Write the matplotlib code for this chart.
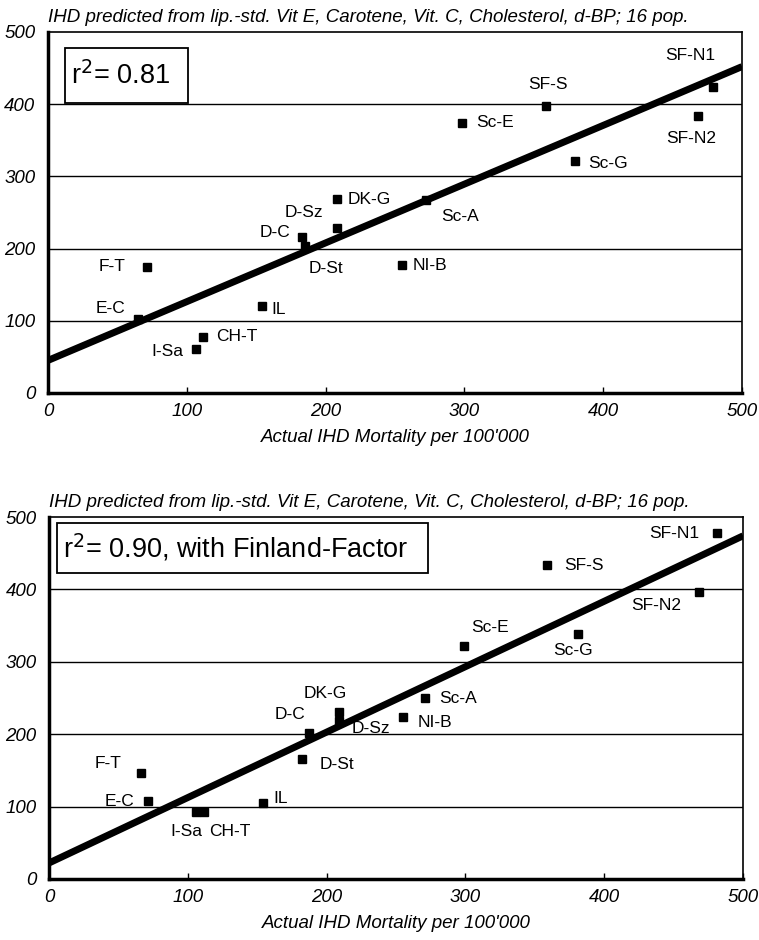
import matplotlib
matplotlib.use("Agg")
import matplotlib.pyplot as plt
from matplotlib.patches import Rectangle

plt.rcParams['font.family'] = ['Liberation Sans', 'DejaVu Sans']

# --- data ---
labels = ["F-T", "E-C", "I-Sa", "CH-T", "IL", "D-C", "D-Sz", "D-St",
          "DK-G", "Sc-A", "NI-B", "Sc-E", "SF-S", "Sc-G", "SF-N2", "SF-N1"]

top_x = [71, 65, 107, 112, 154, 183, 208, 185, 208, 272, 255, 298, 359, 380, 468, 479]
top_y = [174, 103, 61, 78, 121, 216, 229, 203, 268, 267, 177, 374, 397, 321, 384, 424]

bot_x = [66, 71, 106, 112, 154, 187, 209, 182, 209, 271, 255, 299, 359, 381, 468, 481]
bot_y = [146, 107, 93, 93, 105, 202, 218, 165, 231, 250, 223, 322, 433, 339, 397, 478]

# fitted lines (value at x=0 and x=500)
fit_x = [0, 500]
top_fit = [45, 452]
bot_fit = [22, 474]

title = "IHD predicted from lip.-std. Vit E, Carotene, Vit. C, Cholesterol, d-BP; 16 pop."
xlabel = "Actual IHD Mortality per 100'000"
ticks = [0, 100, 200, 300, 400, 500]

# label offsets in pixels (dx, dy) from each marker
top_off = [(-34, 1), (-28, 10), (-29, -3), (33, 0), (17, -4), (-27, 4), (-33, 15), (21, -22),
           (33, 0), (35, -16), (28, 0), (33, 0), (2, 22), (33, -2), (-6, -23), (-23, 31)]
bot_off = [(-33, 10), (-28, 0), (-10, -20), (25, -20), (18, 4), (-19, 18), (32, -7), (35, -5),
           (-14, 18), (33, -1), (32, -5), (26, 18), (37, 0), (-5, -17), (-42, -14), (-42, -1)]


def draw(ax, xs, ys, fit, offs, rtext, box):
    ax.set_xlim(0, 500)
    ax.set_ylim(0, 500)
    for y in ticks[1:-1]:
        ax.axhline(y, color='black', lw=1.0, zorder=1)
    ax.plot(fit_x, fit, color='black', lw=5, solid_capstyle='butt', zorder=2)
    ax.plot(xs, ys, 's', color='black', ms=5.5, zorder=3)
    for lab, x, y, (dx, dy) in zip(labels, xs, ys, offs):
        ax.annotate(lab, (x, y), xytext=(dx, dy), textcoords='offset pixels',
                    ha='center', va='center', fontsize=12.5, zorder=4)
    ax.set_xticks(ticks)
    ax.set_yticks(ticks)
    ax.set_xticklabels([str(t) for t in ticks], fontstyle='italic', fontsize=13.5)
    ax.set_yticklabels([str(t) for t in ticks], fontstyle='italic', fontsize=13.5)
    ax.tick_params(direction='in', length=4, width=1, pad=7)
    ax.tick_params(axis='y', length=0, pad=9)
    for s in ['left', 'bottom']:
        ax.spines[s].set_linewidth(2.5)
    for s in ['top', 'right']:
        ax.spines[s].set_linewidth(1.2)
    ax.set_xlabel(xlabel, fontstyle='italic', fontsize=13.5, labelpad=7)
    ax.set_title(title, fontstyle='italic', fontsize=13.5, loc='left', pad=7)
    x0, y0, x1, y1 = box
    ax.add_patch(Rectangle((x0, y0), x1 - x0, y1 - y0, transform=ax.transAxes,
                           fc='white', ec='black', lw=1.3, zorder=5))
    ax.text(x0 + 0.008, (y0 + y1) / 2, rtext, transform=ax.transAxes, ha='left',
            va='center', fontsize=19.5, zorder=6)


fig = plt.figure(figsize=(7.59, 9.40), dpi=100)
ax1 = fig.add_axes([0.0632, 0.582, 0.9144, 0.384])
ax2 = fig.add_axes([0.0646, 0.065, 0.9144, 0.385])

draw(ax1, top_x, top_y, top_fit, top_off, r"r$^2$= 0.81", (0.0245, 0.803, 0.2017, 0.956))
draw(ax2, bot_x, bot_y, bot_fit, bot_off, r"r$^2$= 0.90, with Finland-Factor",
     (0.0115, 0.845, 0.546, 0.983))

fig.savefig("out.png", dpi=100)
